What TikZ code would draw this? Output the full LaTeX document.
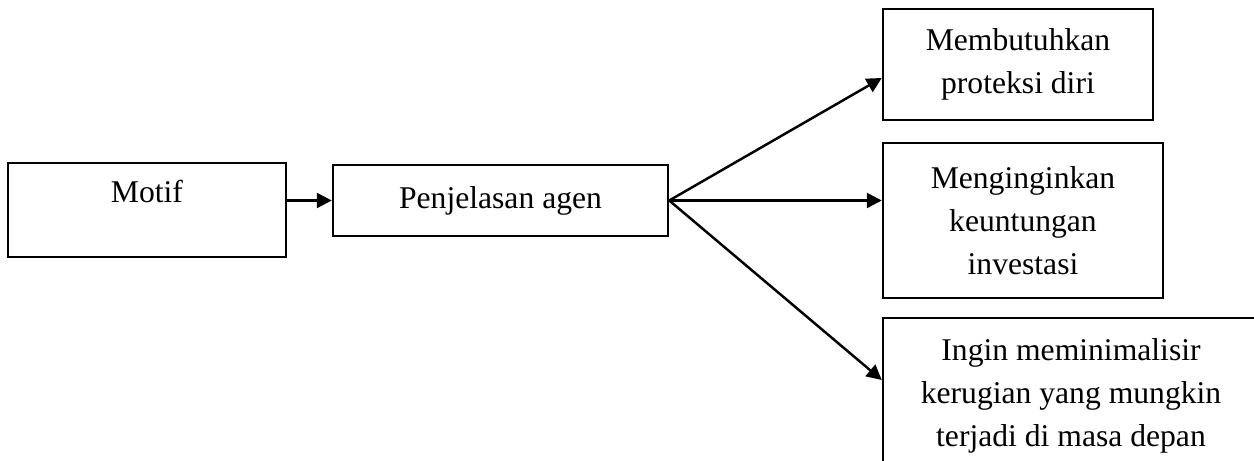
\documentclass[tikz,border=0pt]{standalone}
\usepackage{fontspec}
\setmainfont{Liberation Serif}
\usetikzlibrary{arrows.meta}

\begin{document}
\begin{tikzpicture}[
    line width=1.4pt,
    >={Triangle[length=0.3cm, width=0.3cm]},
    box/.style = {draw, inner sep=0pt, align=center,
                  font=\fontsize{18}{24.5}\selectfont}]
\path[use as bounding box, clip] (0,0) rectangle (25.08,-9.22);

  \node[box, minimum width=5.56cm, text height=0.8cm, text depth=1.08cm] (motif) at (2.94,-4.2) {Motif};
  \node[box, minimum width=6.7cm, minimum height=1.42cm] (agen) at (10.01,-4.01) {Penjelasan agen};

  \node[box, minimum width=5.4cm, minimum height=2.22cm] (proteksi) at (20.36,-1.29)
       {Membutuhkan\\proteksi diri};
  \node[box, minimum width=5.6cm, minimum height=3.1cm] (untung) at (20.46,-4.41)
       {Menginginkan\\keuntungan\\investasi};
  \node[box, minimum width=7.52cm, minimum height=3.12cm] (rugi) at (21.42,-7.92)
       {Ingin meminimalisir\\kerugian yang mungkin\\terjadi di masa depan};

  \draw[->] (agen.west -| motif.east) -- (agen.west);
  \draw[->] (agen.east) -- ([yshift=-0.27cm]proteksi.west);
  \draw[->] (agen.east) -- (agen.east -| untung.west);
  \draw[->] (agen.east) -- ([yshift=0.32cm]rugi.west);
\end{tikzpicture}
\end{document}
